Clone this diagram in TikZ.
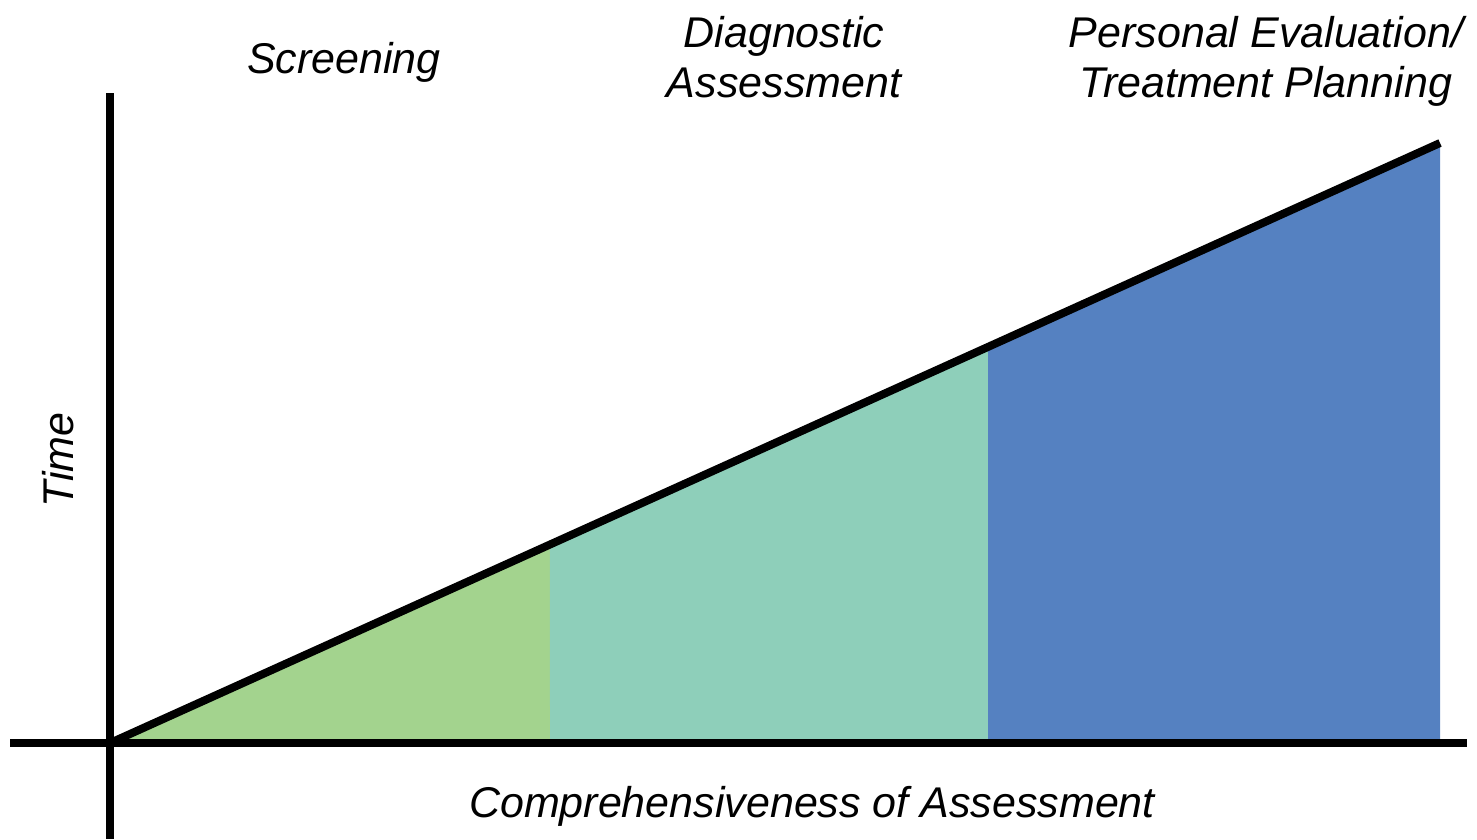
\documentclass[tikz,border=0pt]{standalone}
\usepackage{fontspec}
\setmainfont{Liberation Sans}
\usetikzlibrary{calc}
\definecolor{screengreen}{HTML}{A3D38E}
\definecolor{diagteal}{HTML}{8ECFBA}
\definecolor{planblue}{HTML}{5581C1}
\tikzset{
  axisline/.style={line width=8pt, black},
  slopeline/.style={line width=8pt, black},
  lbl/.style={font=\fontsize{43}{50}\selectfont\itshape, inner sep=0pt, text=black},
  lbltwo/.style={lbl, align=center},
}
\begin{document}
\begin{tikzpicture}[x=1pt,y=-1pt]
\useasboundingbox (0,0) rectangle (1477,839);
% key points
\coordinate (O) at (110,743);
\coordinate (E) at (1440,143);
\coordinate (ytop) at (110,93);
\coordinate (ybot) at (110,839);
\coordinate (xl) at (10,743);
\coordinate (xr) at (1467,743);
\coordinate (b1) at (550,743);
\coordinate (b2) at (988,743);
\coordinate (t1) at ($(O)!0.3308!(E)$);
\coordinate (t2) at ($(O)!0.6602!(E)$);
% fills
\fill[screengreen] (O) -- (t1) -- (b1) -- cycle;
\fill[diagteal] (b1) -- (t1) -- (t2) -- (b2) -- cycle;
\fill[planblue] (b2) -- (t2) -- (E) -- (E |- O) -- cycle;
% axes
\draw[axisline] (ytop) -- (ybot);
\draw[axisline] (xl) -- (xr);
\draw[slopeline] (O) -- (E);
% labels
\node[lbl, anchor=base] (screen) at (344,73) {Screening};
\node[lbltwo, anchor=base] (diag) at (784,97) {Diagnostic\\Assessment};
\node[lbltwo, anchor=base] (plan) at (1266,97) {Personal Evaluation/\\Treatment Planning};
\node[lbl, anchor=base] (xlab) at (812,817) {Comprehensiveness of Assessment};
\node[lbl, rotate=90] (ylab) at (58,460) {Time};
\end{tikzpicture}
\end{document}
